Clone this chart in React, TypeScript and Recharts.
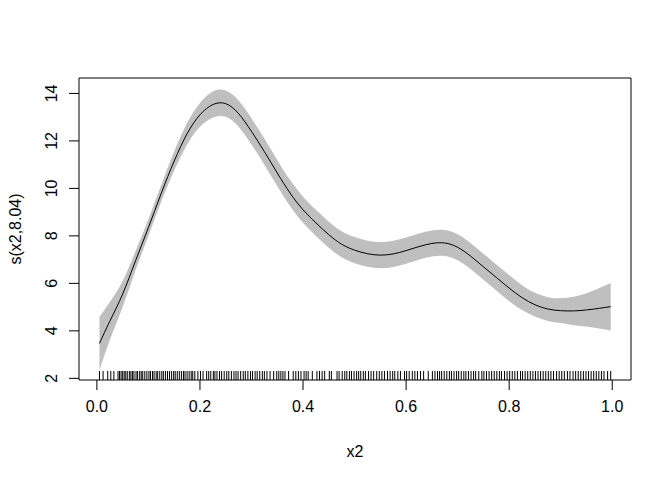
import React from 'react';
import { ComposedChart, Area, Line, XAxis, YAxis, ReferenceArea, ReferenceLine } from 'recharts';

// axis ranges (R style, 4% padding)
const X_MIN = -0.0347;
const X_MAX = 1.0364;
const Y_MIN = 1.93;
const Y_MAX = 14.65;
const RUG_LEN = 0.38;

const xTicks = [0, 0.2, 0.4, 0.6, 0.8, 1.0];
const yTicks = [2, 4, 6, 8, 10, 12, 14];

// smooth estimate s(x2) and half width of the band
const xs = [0.005, 0.025, 0.05, 0.075, 0.1, 0.125, 0.15, 0.175, 0.2, 0.225, 0.25, 0.275, 0.3, 0.325, 0.35, 0.375, 0.4, 0.425, 0.45, 0.475, 0.5, 0.525, 0.55, 0.575, 0.6, 0.625, 0.65, 0.675, 0.7, 0.725, 0.75, 0.775, 0.8, 0.825, 0.85, 0.875, 0.9, 0.925, 0.95, 0.975, 0.997];
const fit = [3.47, 4.4, 5.55, 6.95, 8.35, 9.8, 11.15, 12.3, 13.1, 13.53, 13.57, 13.15, 12.4, 11.55, 10.65, 9.8, 9.1, 8.55, 8.05, 7.65, 7.4, 7.25, 7.19, 7.24, 7.38, 7.55, 7.68, 7.7, 7.52, 7.15, 6.7, 6.25, 5.8, 5.4, 5.1, 4.92, 4.85, 4.84, 4.88, 4.95, 5.02];
const halfWidth = [1.12, 0.8, 0.55, 0.4, 0.35, 0.35, 0.4, 0.45, 0.5, 0.55, 0.55, 0.55, 0.55, 0.55, 0.55, 0.55, 0.55, 0.55, 0.55, 0.55, 0.55, 0.55, 0.55, 0.55, 0.55, 0.55, 0.55, 0.55, 0.55, 0.55, 0.55, 0.55, 0.55, 0.52, 0.5, 0.5, 0.52, 0.6, 0.7, 0.85, 1.0];

// observed x2 values (rug)
const rug = [0.005, 0.012, 0.021, 0.027, 0.033, 0.041, 0.044, 0.047, 0.05, 0.053, 0.056, 0.059, 0.063, 0.066, 0.069, 0.072, 0.076, 0.079, 0.083, 0.086, 0.089, 0.093, 0.097, 0.101, 0.104, 0.108, 0.111, 0.115, 0.118, 0.122, 0.126, 0.129, 0.133, 0.137, 0.141, 0.145, 0.149, 0.152, 0.156, 0.16, 0.164, 0.168, 0.171, 0.175, 0.179, 0.183, 0.186, 0.19, 0.196, 0.201, 0.206, 0.213, 0.217, 0.221, 0.226, 0.229, 0.233, 0.238, 0.242, 0.247, 0.252, 0.256, 0.261, 0.266, 0.27, 0.274, 0.279, 0.284, 0.288, 0.293, 0.298, 0.302, 0.307, 0.311, 0.316, 0.321, 0.325, 0.33, 0.336, 0.343, 0.349, 0.353, 0.357, 0.361, 0.365, 0.372, 0.381, 0.386, 0.391, 0.396, 0.402, 0.406, 0.41, 0.418, 0.427, 0.432, 0.437, 0.442, 0.451, 0.455, 0.466, 0.47, 0.476, 0.481, 0.485, 0.49, 0.494, 0.499, 0.504, 0.508, 0.512, 0.517, 0.521, 0.527, 0.532, 0.537, 0.543, 0.548, 0.553, 0.558, 0.564, 0.569, 0.574, 0.578, 0.584, 0.589, 0.597, 0.601, 0.606, 0.612, 0.617, 0.622, 0.628, 0.634, 0.643, 0.651, 0.656, 0.661, 0.665, 0.669, 0.674, 0.679, 0.684, 0.688, 0.693, 0.698, 0.702, 0.707, 0.712, 0.716, 0.721, 0.726, 0.731, 0.735, 0.741, 0.747, 0.751, 0.756, 0.761, 0.766, 0.771, 0.776, 0.781, 0.785, 0.791, 0.796, 0.801, 0.806, 0.811, 0.816, 0.822, 0.826, 0.831, 0.836, 0.841, 0.846, 0.851, 0.856, 0.861, 0.866, 0.871, 0.876, 0.881, 0.886, 0.892, 0.897, 0.902, 0.907, 0.913, 0.918, 0.924, 0.929, 0.934, 0.939, 0.944, 0.949, 0.954, 0.959, 0.964, 0.969, 0.974, 0.979, 0.984, 0.991, 0.997];

const data = xs.map((x, i) => ({
  x,
  fit: fit[i],
  band: [fit[i] - halfWidth[i], fit[i] + halfWidth[i]],
}));

const FONT = '"Liberation Sans", Arial, Helvetica, sans-serif';

const XTick = (props: any) => {
  const { x, y, payload } = props;
  return (
    <text x={x} y={y + 16} textAnchor="middle" dominantBaseline="central" fontSize={16} fontFamily={FONT} fill="#000">
      {Number(payload.value).toFixed(1)}
    </text>
  );
};

const YTick = (props: any) => {
  const { x, y, payload } = props;
  const cx = x - 17;
  return (
    <text x={cx} y={y} textAnchor="middle" dominantBaseline="central" fontSize={16} fontFamily={FONT} fill="#000" transform={`rotate(-90 ${cx} ${y})`}>
      {payload.value}
    </text>
  );
};

const XTitle = (props: any) => {
  const vb = props.viewBox;
  return (
    <text x={vb.x + vb.width / 2} y={vb.y + 71} textAnchor="middle" dominantBaseline="central" fontSize={16} fontFamily={FONT} fill="#000">
      x2
    </text>
  );
};

const YTitle = (props: any) => {
  const vb = props.viewBox;
  const cx = vb.x + 15;
  const cy = vb.y + vb.height / 2;
  return (
    <text x={cx} y={cy} textAnchor="middle" dominantBaseline="central" fontSize={16} fontFamily={FONT} fill="#000" transform={`rotate(-90 ${cx} ${cy})`}>
      s(x2,8.04)
    </text>
  );
};

export default function App() {
  return (
    <div style={{ position: 'absolute', left: 0, top: 0, width: 672, height: 480, background: '#fff' }}>
      <ComposedChart width={672} height={480} data={data} margin={{ top: 78, right: 41, bottom: 0, left: 0 }}>
        <XAxis
          dataKey="x"
          type="number"
          domain={[X_MIN, X_MAX]}
          allowDataOverflow
          ticks={xTicks}
          height={100}
          axisLine={false}
          tickLine={{ stroke: '#000' }}
          tickSize={10}
          tickMargin={0}
          tick={<XTick />}
          label={<XTitle />}
        />
        <YAxis
          type="number"
          domain={[Y_MIN, Y_MAX]}
          allowDataOverflow
          ticks={yTicks}
          width={79}
          axisLine={false}
          tickLine={{ stroke: '#000' }}
          tickSize={10}
          tickMargin={0}
          tick={<YTick />}
          label={<YTitle />}
        />
        <Area dataKey="band" type="natural" fill="#bfbfbf" fillOpacity={1} stroke="none" isAnimationActive={false} />
        <Line dataKey="fit" type="natural" stroke="#000" strokeWidth={1} dot={false} isAnimationActive={false} />
        {rug.map((v, i) => (
          <ReferenceLine
            key={i}
            segment={[{ x: v, y: Y_MIN }, { x: v, y: Y_MIN + RUG_LEN }]}
            stroke="#000"
            strokeWidth={1}
          />
        ))}
        <ReferenceArea x1={X_MIN} x2={X_MAX} y1={Y_MIN} y2={Y_MAX} fill="none" fillOpacity={0} stroke="#000" strokeWidth={1} />
      </ComposedChart>
    </div>
  );
}
